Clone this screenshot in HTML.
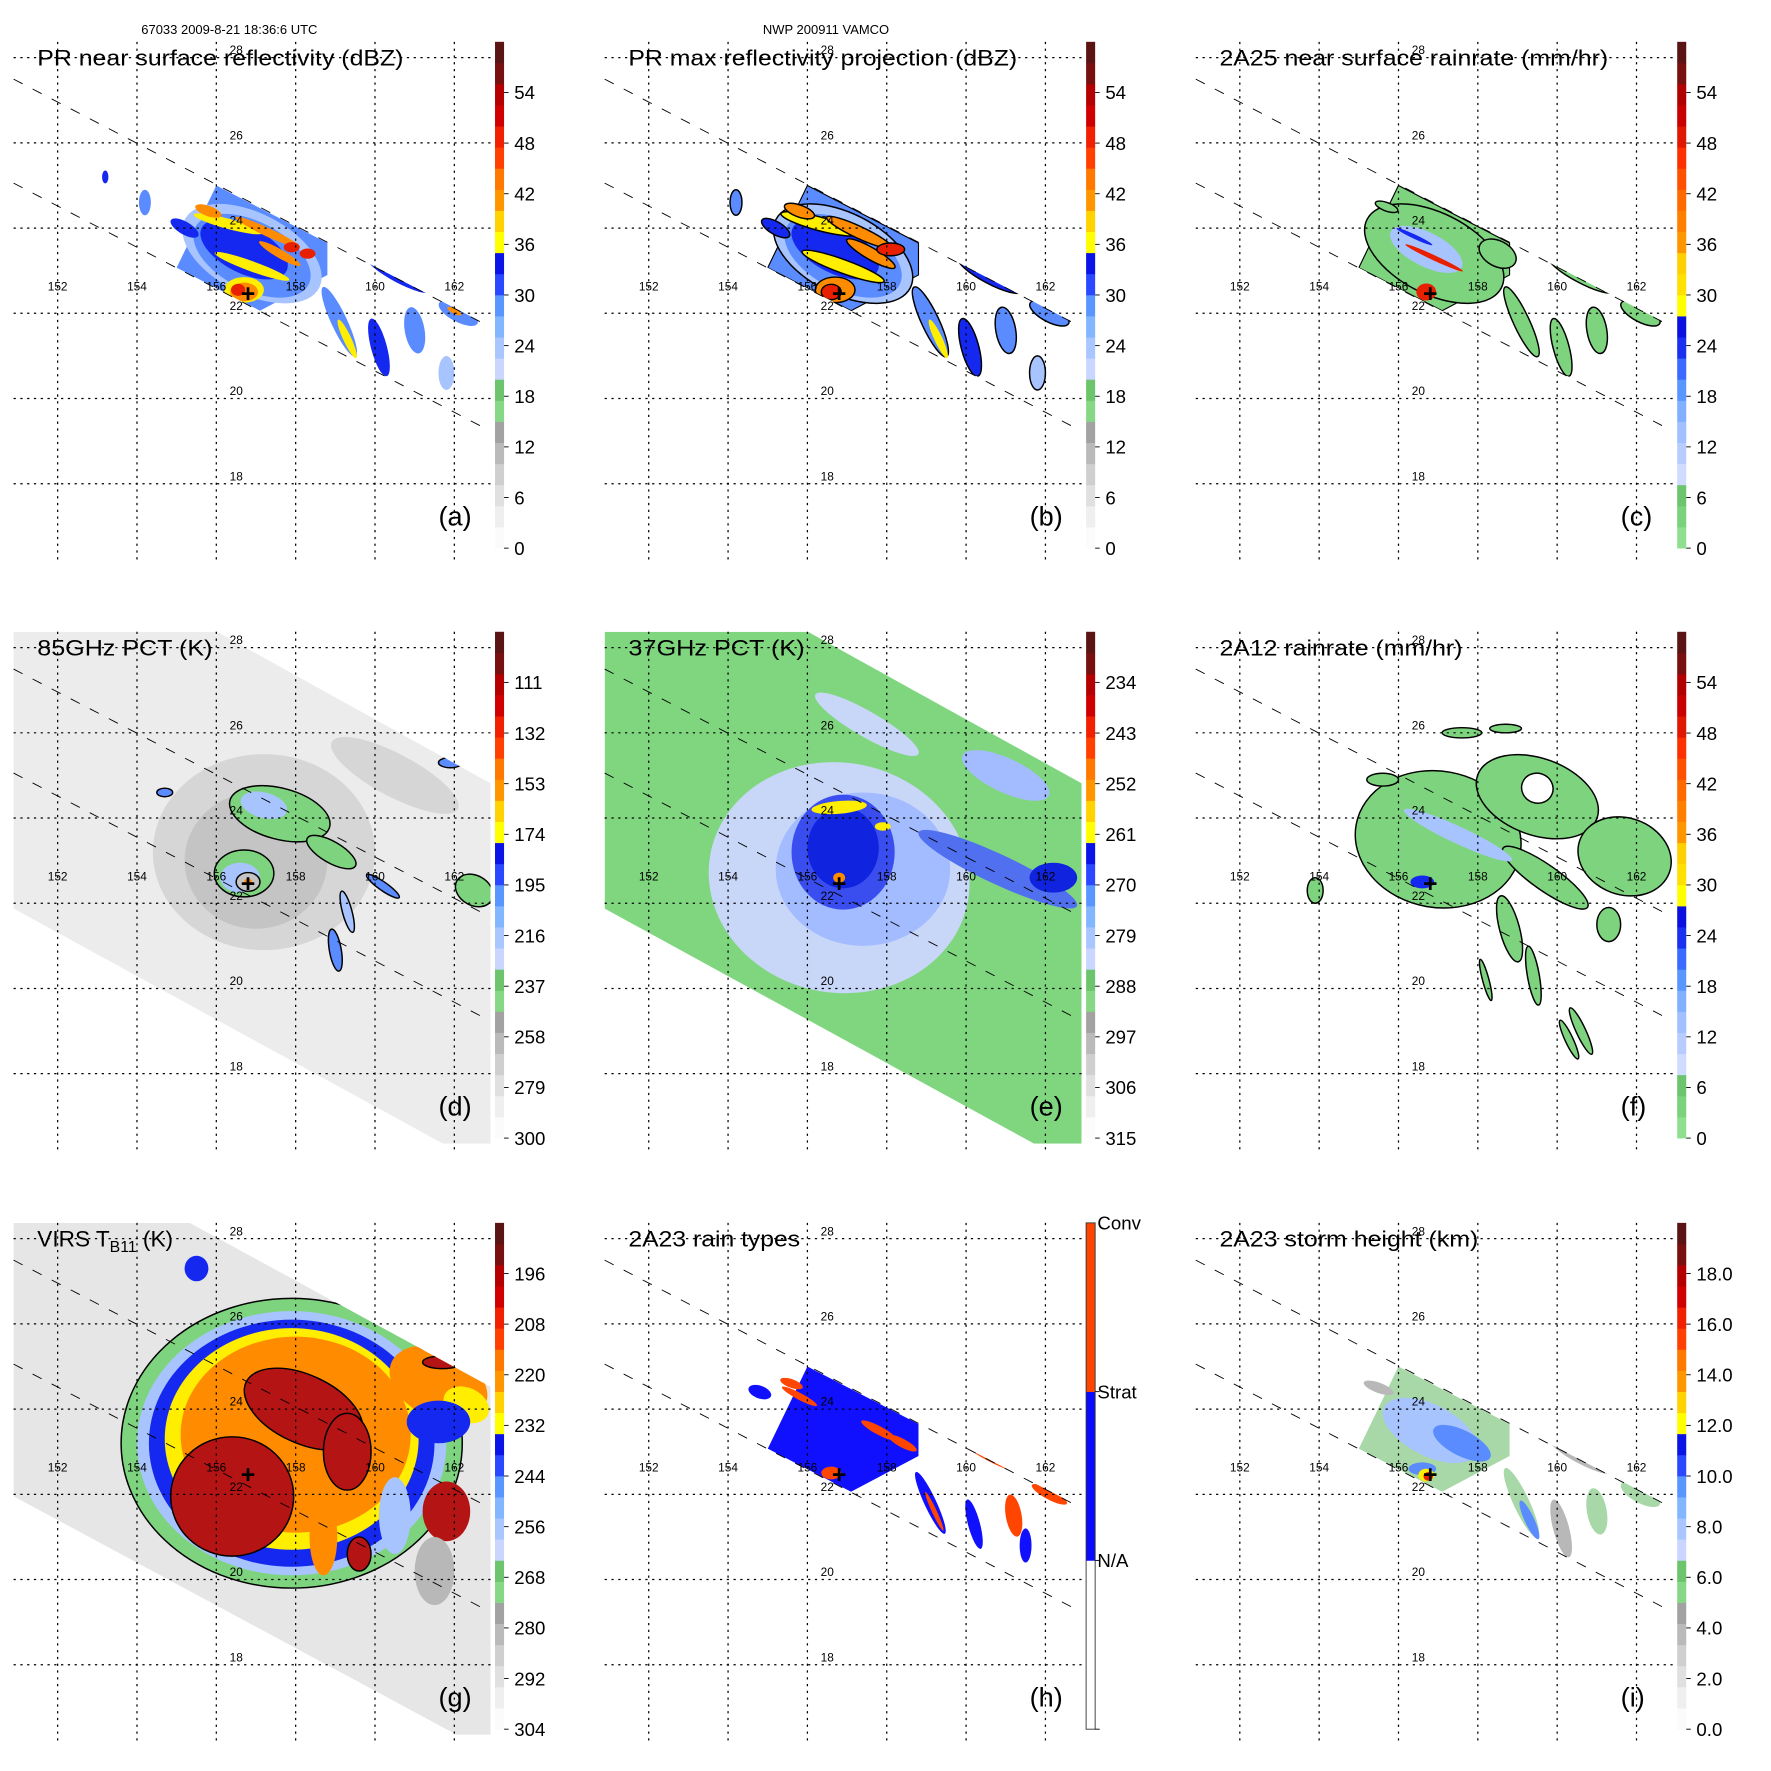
<!DOCTYPE html>
<html><head><meta charset="utf-8"><style>
html,body{margin:0;padding:0;background:#fff;}
svg{display:block;}
text{font-family:"Liberation Sans",sans-serif;fill:#000;}
</style></head><body>
<svg id="fig" xmlns="http://www.w3.org/2000/svg" width="1771" height="1771" viewBox="0 0 1567 1567">
<rect x="0" y="0" width="1567" height="1567" fill="#fff"/>
<text x="125" y="30" font-size="11.5">67033 2009-8-21 18:36:6 UTC</text>
<text x="675" y="30" font-size="11.5">NWP 200911 VAMCO</text>
<g id="panels"></g>
</svg>
<script>
const LON_TICKS=[152,154,156,158,160,162];
const LAT_TICKS=[28,26,24,22,20,18];
const CENTER=[156.8,22.45];
const PR_BLOCK=[[156.0,25.0],[158.8,23.65],[158.8,22.9],[157.1,22.06],[155.0,23.07]];

const LAB_A=['0','6','12','18','24','30','36','42','48','54'];
const LAB_D=['300','279','258','237','216','195','174','153','132','111'];
const LAB_E=['315','306','297','288','279','270','261','252','243','234'];
const LAB_G=['304','292','280','268','256','244','232','220','208','196'];
const LAB_I=['0.0','2.0','4.0','6.0','8.0','10.0','12.0','14.0','16.0','18.0'];
const LAB_H=['N/A','Strat','Conv'];

const PAL_A=['#fbfbfb','#efefef','#e0e0e0','#cfcfcf','#bababa','#a2a2a2','#86d886','#6cc46c','#cad6ff','#aac6ff','#82b6ff','#5a96ff','#2a48ff','#0a14e6','#ffff00','#ffd200','#ff9600','#ff7800','#ff4000','#f02000','#d00000','#b40000','#781010','#5a1414'];
const PAL_C=['#8ee08e','#7ad27a','#6cc46c','#d0dcff','#b8ccff','#a0c0ff','#80b0ff','#5a96ff','#3a6aff','#1a30f0','#0a10e0','#ffff00','#ffe000','#ffd000','#ff9600','#ff8000','#ff6a00','#ff5000','#ff3000','#e01800','#c80000','#b00000','#781010','#5a1414'];
const PAL_H=['#ffffff','#0a0aff','#ff4500'];

const C={lb:'#a8c4ff',mb:'#5a8cff',b:'#1428f0',y:'#ffee00',o:'#ff8c00',r:'#e82000',dr:'#b01010',g:'#7ed47e',hb:'#1010ff',conv:'#ff4500',gl:'#a8d8a8',gy:'#b8b8b8',w:'#ffffff',
 h1:'#d6d6d6',h2:'#c4c4c4',e1:'#c8d6f8',e2:'#a2bcff',e3:'#3a4ef0',e4:'#1024e0',e5:'#5070f0',gr:'#b41414'};

const BLOBS_A=[[156.9,23.4,1.9,0.95,27,'lb',0],[156.9,23.35,1.6,0.8,27,'mb',0],[156.7,23.5,1.2,0.55,27,'b',0],[156.3,24.1,0.9,0.12,15,'y',0],[157.3,23.9,0.9,0.1,25,'o',0],[156.9,23.1,1.0,0.12,20,'y',0],[157.6,23.4,0.6,0.1,30,'o',0],[156.7,22.55,0.5,0.3,0,'y',0],[156.7,22.5,0.35,0.22,0,'o',0],[156.55,22.55,0.18,0.14,0,'r',0],[157.9,23.55,0.2,0.12,0,'r',0],[158.3,23.4,0.2,0.12,0,'r',0],[155.8,24.4,0.35,0.12,20,'o',0],[155.2,24.0,0.4,0.15,30,'b',0],[154.2,24.6,0.15,0.3,0,'mb',0],[153.2,25.2,0.08,0.15,0,'b',0],[159.1,21.8,0.2,0.9,-25,'mb',0],[159.3,21.4,0.1,0.5,-25,'y',0],[160.1,21.2,0.2,0.7,-15,'b',0],[161.0,21.6,0.25,0.55,-10,'mb',0],[160.6,22.9,0.9,0.18,28,'b',0],[160.8,22.85,0.5,0.08,28,'o',0],[162.1,22.0,0.55,0.2,28,'mb',0],[162.0,22.05,0.2,0.06,28,'o',0],[161.8,20.6,0.2,0.4,0,'lb',0]];
const BLOBS_B=[[156.9,23.4,1.9,0.95,27,'lb',1],[156.9,23.35,1.6,0.8,27,'mb',0],[156.7,23.5,1.2,0.55,27,'b',0],[156.3,24.1,1.0,0.16,15,'y',1],[157.3,23.9,0.9,0.14,25,'o',1],[156.9,23.1,1.1,0.16,20,'y',1],[157.6,23.4,0.7,0.14,30,'o',1],[156.7,22.55,0.5,0.3,0,'o',1],[156.6,22.5,0.25,0.18,0,'r',1],[158.1,23.5,0.35,0.15,0,'r',1],[155.8,24.4,0.4,0.14,20,'o',1],[155.2,24.0,0.4,0.15,30,'b',1],[154.2,24.6,0.15,0.3,0,'mb',1],[159.1,21.8,0.22,0.9,-25,'mb',1],[159.3,21.4,0.1,0.5,-25,'y',0],[160.1,21.2,0.22,0.7,-15,'b',1],[161.0,21.6,0.25,0.55,-10,'mb',1],[160.6,22.9,0.9,0.2,28,'b',1],[160.8,22.85,0.5,0.1,28,'o',0],[162.1,22.0,0.55,0.2,28,'mb',1],[161.8,20.6,0.2,0.4,0,'lb',1]];
const BLOBS_C=[[156.9,23.4,1.9,0.95,27,'g',1],[156.7,23.5,1.0,0.4,27,'lb',0],[156.9,23.3,0.8,0.06,25,'r',0],[156.4,23.8,0.5,0.05,25,'b',0],[156.7,22.5,0.25,0.2,0,'r',0],[159.1,21.8,0.2,0.9,-25,'g',1],[160.1,21.2,0.2,0.7,-15,'g',1],[161.0,21.6,0.25,0.55,-10,'g',1],[160.6,22.9,0.9,0.18,28,'g',1],[162.1,22.0,0.55,0.2,28,'g',1],[158.5,23.4,0.5,0.3,28,'g',1],[155.7,24.5,0.3,0.1,20,'g',1]];
const BLOBS_H=[[157.8,23.5,0.5,0.1,28,'conv',0],[158.4,23.2,0.4,0.1,28,'conv',0],[155.8,24.3,0.5,0.08,28,'conv',0],[156.6,22.5,0.25,0.15,0,'conv',0],[159.1,21.8,0.15,0.8,-25,'hb',0],[159.2,21.6,0.06,0.5,-25,'conv',0],[160.2,21.3,0.15,0.6,-15,'hb',0],[161.2,21.5,0.2,0.5,-10,'conv',0],[160.6,22.9,0.8,0.12,28,'conv',0],[162.1,22.0,0.5,0.12,28,'conv',0],[161.5,20.8,0.15,0.4,0,'hb',0],[154.8,24.4,0.3,0.15,20,'hb',0],[155.6,24.6,0.3,0.1,20,'conv',0]];
const BLOBS_I=[[156.8,23.5,1.3,0.6,27,'lb',0],[157.6,23.2,0.8,0.3,27,'mb',0],[156.6,22.6,0.35,0.15,0,'mb',0],[156.7,22.45,0.2,0.15,0,'y',0],[156.75,22.42,0.12,0.1,0,'r',0],[159.1,21.8,0.2,0.9,-25,'gl',0],[159.3,21.4,0.12,0.5,-25,'mb',0],[160.1,21.2,0.2,0.7,-15,'gy',0],[161.0,21.6,0.25,0.55,-10,'gl',0],[160.6,22.9,0.9,0.18,28,'gy',0],[162.1,22.0,0.55,0.2,28,'gl',0],[155.5,24.5,0.4,0.12,20,'gy',0]];
const BLOBS_D=[[157.2,23.2,2.8,2.3,0,'h1',0],[157.0,23.0,1.8,1.6,0,'h2',0],[160.5,25.0,1.8,0.5,28,'h1',0],[157.6,24.1,1.3,0.6,15,'g',1],[157.2,24.3,0.6,0.3,15,'lb',0],[156.7,22.7,0.75,0.55,0,'g',1],[156.6,22.6,0.5,0.35,0,'lb',0],[156.8,22.5,0.3,0.22,0,'h2',1],[158.9,23.2,0.7,0.25,30,'g',1],[160.2,22.4,0.5,0.1,35,'mb',1],[159.3,21.8,0.12,0.5,-15,'lb',1],[159.0,20.9,0.15,0.5,-10,'mb',1],[162.5,22.3,0.5,0.35,30,'g',1],[154.7,24.6,0.2,0.1,0,'mb',1],[161.9,25.3,0.3,0.12,0,'mb',1],[156.8,22.5,0.1,0.08,0,'o',0]];
const BLOBS_E=[[156.8,22.6,3.3,2.7,10,'e1',0],[157.4,22.8,2.2,1.8,0,'e2',0],[157.5,26.2,1.5,0.3,30,'e1',0],[161,25,1.2,0.4,25,'e2',0],[160.8,22.8,2.2,0.35,25,'e5',0],[156.9,23.2,1.3,1.35,0,'e3',0],[156.9,23.3,0.9,0.95,0,'e4',0],[162.2,22.6,0.6,0.35,0,'e4',0],[156.8,24.25,0.7,0.15,-5,'y',0],[157.9,23.8,0.2,0.1,0,'y',0],[156.8,22.6,0.15,0.12,0,'o',0]];
const BLOBS_F=[[157.0,23.5,2.1,1.6,10,'g',1],[159.5,24.5,1.6,0.9,20,'g',1],[161.7,23.1,1.2,0.9,20,'g',1],[159.7,22.6,1.3,0.3,35,'g',1],[158.8,21.4,0.25,0.8,-15,'g',1],[159.4,20.3,0.15,0.7,-10,'g',1],[158.2,20.2,0.08,0.5,-15,'g',1],[160.3,18.8,0.1,0.5,-25,'g',1],[160.6,19.0,0.12,0.6,-25,'g',1],[155.6,24.9,0.4,0.15,0,'g',1],[157.6,26.0,0.5,0.12,0,'g',1],[158.7,26.1,0.4,0.1,0,'g',1],[153.9,22.3,0.2,0.3,0,'g',1],[161.3,21.5,0.3,0.4,0,'g',1],[159.5,24.7,0.4,0.35,20,'w',1],[157.5,23.6,1.5,0.2,25,'lb',0],[156.6,22.5,0.3,0.15,0,'b',0]];
const BLOBS_G=[[157.9,23.2,4.3,3.4,0,'g',1],[157.9,23.2,3.9,3.1,0,'lb',0],[157.9,23.2,3.6,2.9,0,'b',0],[157.9,23.3,3.2,2.6,0,'y',0],[158.0,23.4,2.9,2.3,0,'o',0],[161.6,24.6,1.3,0.8,25,'o',0],[162.3,24.1,0.6,0.4,25,'y',0],[161.6,23.7,0.8,0.5,0,'b',0],[156.4,21.95,1.55,1.4,0,'gr',1],[158.2,24.0,1.6,0.8,25,'gr',1],[159.3,23.0,0.6,0.9,0,'gr',1],[161.8,21.6,0.6,0.7,0,'gr',0],[158.7,21.0,0.35,0.9,0,'o',0],[159.6,20.6,0.3,0.4,0,'gr',1],[160.5,21.5,0.4,0.9,0,'lb',0],[161.5,20.2,0.5,0.8,0,'gy',0],[161.7,25.1,0.5,0.15,0,'gr',1],[155.5,27.3,0.3,0.3,0,'b',0]];

const NS='http://www.w3.org/2000/svg';
function mk(tag,parent,attrs){const e=document.createElementNS(NS,tag);for(const k in attrs)e.setAttribute(k,attrs[k]);parent.appendChild(e);return e;}
function X(lon){return 39+(lon-152)*35.1;}
function Y(lat){return 14+(28-lat)*37.7;}

const TMI_SW='0,0 180,0 422,134 422,453 380,453 0,245';
const VIRS_SW='0,0 156,0 422,145 422,453 392,453 0,242';
const PR_SW='0,33 422,252 422,344 0,125';

const PANELS=[
 {id:'a',x:12,y:37,title:'PR near surface reflectivity (dBZ)',tl:324,blobs:BLOBS_A,pal:PAL_A,lab:LAB_A,sw:PR_SW,block:'mb'},
 {id:'b',x:535,y:37,title:'PR max reflectivity projection (dBZ)',tl:344,blobs:BLOBS_B,pal:PAL_A,lab:LAB_A,sw:PR_SW,block:'mb'},
 {id:'c',x:1058,y:37,title:'2A25 near surface rainrate (mm/hr)',tl:344,blobs:BLOBS_C,pal:PAL_C,lab:LAB_A,sw:PR_SW,block:'g'},
 {id:'d',x:12,y:559,title:'85GHz PCT (K)',tl:155,blobs:BLOBS_D,pal:PAL_A,lab:LAB_D,sw:TMI_SW,bg:'#ececec'},
 {id:'e',x:535,y:559,title:'37GHz PCT (K)',tl:156,blobs:BLOBS_E,pal:PAL_A,lab:LAB_E,sw:TMI_SW,bg:'#7fd67f'},
 {id:'f',x:1058,y:559,title:'2A12 rainrate (mm/hr)',tl:215,blobs:BLOBS_F,pal:PAL_C,lab:LAB_A,sw:'0,0 422,0 422,453 0,453'},
 {id:'g',x:12,y:1082,title:'VIRS T',tl:0,blobs:BLOBS_G,pal:PAL_A,lab:LAB_G,sw:VIRS_SW,bg:'#e6e6e6'},
 {id:'h',x:535,y:1082,title:'2A23 rain types',tl:152,blobs:BLOBS_H,pal:PAL_H,lab:LAB_H,sw:PR_SW,block:'hb'},
 {id:'i',x:1058,y:1082,title:'2A23 storm height (km)',tl:229,blobs:BLOBS_I,pal:PAL_A,lab:LAB_I,sw:PR_SW,block:'gl'}
];

const root=document.getElementById('panels');
PANELS.forEach(p=>{
 const g=mk('g',root,{transform:`translate(${p.x},${p.y})`});
 
 
 const cp=mk('clipPath',g,{id:'clip-'+p.id});
 mk('polygon',cp,{points:p.sw});
 const field=mk('g',g,{'clip-path':`url(#clip-${p.id})`});
 
 
 if(p.bg){const bg=mk('polygon',field,{points:p.sw,fill:p.bg});
  
  }
 if(p.block){const pts=PR_BLOCK.map(q=>X(q[0])+','+Y(q[1])).join(' ');
  const bl=mk('polygon',field,{points:pts,fill:C[p.block],stroke:p.id==='b'||p.id==='c'?'#000':'none','stroke-width':1});
  
  }
 p.blobs.forEach(b=>{
  const cx=X(b[0]),cy=Y(b[1]);
  const e=mk('ellipse',field,{cx:cx,cy:cy,rx:b[2]*35.1,ry:b[3]*37.7,transform:`rotate(${b[4]} ${cx} ${cy})`,fill:C[b[5]],stroke:b[6]?'#000':'none','stroke-width':1.3});
  
  
 });
 LON_TICKS.forEach(lon=>{
  const l=mk('line',g,{x1:X(lon),x2:X(lon),y1:0,y2:458,stroke:'#000','stroke-width':1.1,'stroke-dasharray':'2,4'});
  
  
  const t=mk('text',g,{x:X(lon),y:220,'font-size':10.5,'text-anchor':'middle'});t.textContent=lon;
  
  
 });
 LAT_TICKS.forEach(lat=>{
  const l=mk('line',g,{x1:0,x2:422,y1:Y(lat),y2:Y(lat),stroke:'#000','stroke-width':1.1,'stroke-dasharray':'2,4'});
  
  
  const t=mk('text',g,{x:197,y:Y(lat)-3,'font-size':10.5,'text-anchor':'middle'});t.textContent=lat;
  
  
 });
 [33,125].forEach(y0=>{
  const l=mk('line',g,{x1:0,y1:y0,x2:418,y2:y0+0.52*418,stroke:'#000','stroke-width':0.8,'stroke-dasharray':'9,10'});
  
  
 });
 const cr=mk('text',g,{x:X(CENTER[0]),y:Y(CENTER[1])+7,'font-size':22,'font-weight':'bold','text-anchor':'middle'});cr.textContent='+';
 
 
 const cb=mk('g',g,{});
 
 
 const n=p.pal.length,bh=448/n;
 p.pal.forEach((c,i)=>{const r=mk('rect',cb,{x:426,y:448-(i+1)*bh,width:8,height:bh+0.3,fill:c});
  
  });
 if(p.id==='h'){mk('rect',cb,{x:426,y:0,width:8,height:448,fill:'none',stroke:'#333','stroke-width':0.8});}
 const step=p.id==='h'?448/3:44.8;
 p.lab.forEach((s,i)=>{
  const yy=448-i*step;
  mk('line',cb,{x1:434,x2:438,y1:yy,y2:yy,stroke:'#000','stroke-width':0.8});
  const t=mk('text',cb,{x:p.id==='h'?436:443,y:p.id==='h'?yy-448/3+6:yy+6,'font-size':16.5});t.textContent=s;
  
  
 });
 const tt=mk('text',g,{x:21,y:21,'font-size':20});
 
 
 if(p.id==='g'){tt.innerHTML='VIRS T<tspan font-size="14" dy="5">B11</tspan><tspan dy="-5"> (K)</tspan>';}
 else{tt.textContent=p.title;tt.setAttribute('textLength',p.tl);tt.setAttribute('lengthAdjust','spacingAndGlyphs');}
 const lt=mk('text',g,{x:376,y:428,'font-size':24});lt.textContent='('+p.id+')';
 
 
});
</script>
</body></html>
